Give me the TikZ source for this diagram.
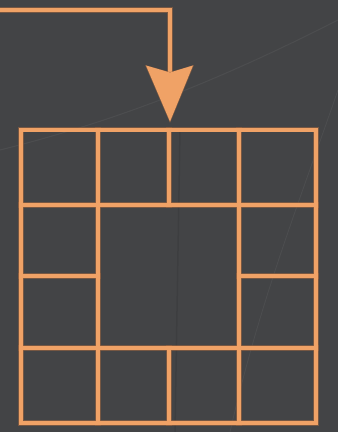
\documentclass[tikz,border=0pt]{standalone}
\usetikzlibrary{calc}
\definecolor{bgdark}{HTML}{434446}
\definecolor{lineor}{HTML}{F0A266}
\definecolor{lineedge}{HTML}{9A6440}
\tikzset{
  gridline/.style={line width=4pt, draw=lineor, line cap=rect},
  gridedge/.style={line width=5.4pt, draw=lineedge, line cap=rect, opacity=0.6},
}
\begin{document}
\begin{tikzpicture}[x=1pt,y=-1pt]
\useasboundingbox (0,0) rectangle (338,432);
\fill[bgdark] (0,0) rectangle (338,432);
% faint marble streaks
\draw[white, opacity=0.05, line width=1pt] (0,150) .. controls (120,120) and (220,80) .. (338,20);
\draw[white, opacity=0.05, line width=0.8pt] (338,90) .. controls (300,200) and (260,300) .. (230,432);
\draw[black, opacity=0.08, line width=1.5pt] (180,130) -- (175,432);

% coordinates
\coordinate (start) at (0,10);
\coordinate (corner) at (170,10);
\coordinate (notch) at (170,72);
\coordinate (headL) at (145,65);
\coordinate (headR) at (194,65);
\coordinate (tip) at (170,123);

% grid coordinates
\def\xa{21}\def\xb{98}\def\xc{169}\def\xd{239}\def\xe{316}
\def\ya{129.5}\def\yb{205}\def\yc{276}\def\yd{348}\def\ye{423}

\foreach \sty in {gridedge,gridline}{
  % arrow shaft
  \draw[\sty, line cap=butt] (start) -- (corner) -- (notch);
  % outer frame
  \draw[\sty] (\xa,\ya) rectangle (\xe,\ye);
  % horizontal lines
  \draw[\sty] (\xa,\yb) -- (\xe,\yb);
  \draw[\sty] (\xa,\yd) -- (\xe,\yd);
  \draw[\sty] (\xa,\yc) -- (\xb,\yc);
  \draw[\sty] (\xd,\yc) -- (\xe,\yc);
  % vertical lines
  \draw[\sty] (\xb,\ya) -- (\xb,\ye);
  \draw[\sty] (\xd,\ya) -- (\xd,\ye);
  \draw[\sty] (\xc,\ya) -- (\xc,\yb);
  \draw[\sty] (\xc,\yd) -- (\xc,\ye);
}
% arrowhead
\fill[lineedge, opacity=0.6] (headL) -- (notch) -- (headR) -- (tip) -- cycle;
\fill[lineor] ($(headL)+(1,0.5)$) -- ($(notch)+(0,0.5)$) -- ($(headR)+(-1,0.5)$) -- ($(tip)+(0,-1.5)$) -- cycle;
\end{tikzpicture}
\end{document}
